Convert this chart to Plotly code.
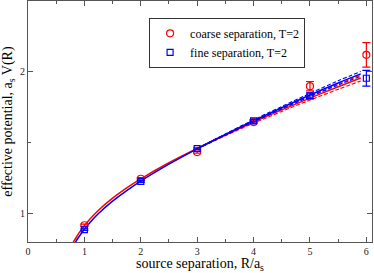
import plotly.graph_objects as go

# data points
R_pts = [1, 2, 3, 4, 5, 6]
coarse_V = [0.918, 1.246, 1.434, 1.646, 1.899, 2.12]
coarse_err = [0.008, 0.008, 0.008, 0.01, 0.033, 0.086]
fine_V = [0.887, 1.227, 1.458, 1.655, 1.831, 1.955]
fine_err = [0.006, 0.006, 0.006, 0.008, 0.02, 0.055]

# fit curves
R_red = [0.78, 0.85, 0.9, 1.0, 1.1, 1.25, 1.5, 1.75, 2.0, 2.5, 3.0, 3.5, 4.0, 4.5, 5.0, 5.5, 5.9]
red_mid = [0.783, 0.830, 0.861, 0.915, 0.962, 1.024, 1.109, 1.182, 1.246, 1.359, 1.460, 1.555, 1.646, 1.732, 1.815, 1.895, 1.957]
R_blue = [0.84, 0.9, 1.0, 1.1, 1.25, 1.5, 1.75, 2.0, 2.5, 3.0, 3.5, 4.0, 4.5, 5.0, 5.5, 5.9]
blue_mid = [0.798, 0.835, 0.890, 0.938, 1.001, 1.088, 1.163, 1.230, 1.349, 1.457, 1.558, 1.655, 1.747, 1.837, 1.922, 1.986]

# error band (dashed), from R = 3 on
R_band = [3.0, 3.5, 4.0, 4.5, 5.0, 5.5, 5.9]
red_half = [0.002, 0.005, 0.008, 0.011, 0.014, 0.018, 0.021]
blue_half = [0.002, 0.004, 0.007, 0.009, 0.012, 0.015, 0.017]

RED = "#ff0000"
BLUE = "#0000ff"
SERIF = "Liberation Serif"

fig = go.Figure()

def band(R, mid, half, color, name):
    start = R.index(R_band[0])
    m = mid[start:]
    up = [a + h for a, h in zip(m, half)]
    lo = [a - h for a, h in zip(m, half)]
    for arr in (up, lo):
        fig.add_trace(go.Scatter(x=R_band, y=arr, mode="lines", line=dict(color=color, width=1.1, dash="4px,2px", shape="spline"),
                                 showlegend=False, hoverinfo="skip"))
    fig.add_trace(go.Scatter(x=R, y=mid, mode="lines", line=dict(color=color, width=1.5, shape="spline"),
                             showlegend=False, name=name))

band(R_red, red_mid, red_half, RED, "coarse fit")
band(R_blue, blue_mid, blue_half, BLUE, "fine fit")

fig.add_trace(go.Scatter(x=R_pts, y=coarse_V, mode="markers", name="coarse separation, T=2",
                         marker=dict(symbol="circle-open", size=7, color=RED, line=dict(width=1.2, color=RED)),
                         error_y=dict(type="data", array=coarse_err, color=RED, thickness=1.2, width=4)))
fig.add_trace(go.Scatter(x=R_pts, y=fine_V, mode="markers", name="fine separation, T=2",
                         marker=dict(symbol="square-open", size=6, color=BLUE, line=dict(width=1.2, color=BLUE)),
                         error_y=dict(type="data", array=fine_err, color=BLUE, thickness=1.2, width=4)))

axis_common = dict(showline=True, linecolor="#555555", linewidth=1, mirror="ticks", ticks="inside",
                   tickcolor="#555555", ticklen=5, showgrid=False, zeroline=False,
                   tickfont=dict(family=SERIF, size=10, color="#222222"))

fig.update_layout(
    width=374, height=273,
    margin=dict(l=28, r=2, t=1, b=31),
    paper_bgcolor="white", plot_bgcolor="white",
    xaxis=dict(range=[0, 6.1], dtick=1, tick0=0,
               minor=dict(dtick=0.5, ticks="inside", ticklen=3, tickcolor="#555555"),
               title=dict(text="source separation, R/a<sub>s</sub>", font=dict(family=SERIF, size=14, color="black"), standoff=2),
               **axis_common),
    yaxis=dict(range=[0.8, 2.5], dtick=1, tick0=0,
               minor=dict(dtick=0.5, ticks="inside", ticklen=3, tickcolor="#555555"),
               title=dict(text="effective potential, a<sub>s</sub> V(R)", font=dict(family=SERIF, size=14, color="black"), standoff=4),
               **axis_common),
    legend=dict(x=0.352, y=0.93, xanchor="left", yanchor="top", bgcolor="white", bordercolor="#333333", borderwidth=1,
                font=dict(family=SERIF, size=12, color="black"), tracegroupgap=0, itemwidth=30),
    showlegend=True,
)

fig.write_html("out.html", config={"displayModeBar": False},
               post_script="document.body.style.margin='0';document.body.style.overflow='hidden';")
